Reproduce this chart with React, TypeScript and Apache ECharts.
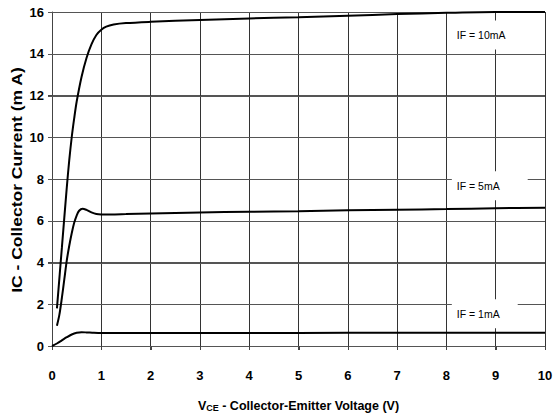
import React, { useEffect, useRef } from "react";
import * as echarts from "echarts";

const xTicks = [0, 1, 2, 3, 4, 5, 6, 7, 8, 9, 10];
const yTicks = [0, 2, 4, 6, 8, 10, 12, 14, 16];

const vce10 = [0.1, 0.2, 0.3, 0.35, 0.4, 0.45, 0.5, 0.6, 0.7, 0.8, 0.9, 1.0, 1.1, 1.25, 1.5, 2, 3, 4, 5, 6, 7, 8, 9, 10];
const ic10 = [1.8, 4.7, 7.6, 8.9, 10.0, 10.9, 11.7, 12.9, 13.8, 14.45, 14.9, 15.15, 15.3, 15.4, 15.47, 15.53, 15.62, 15.69, 15.75, 15.82, 15.9, 15.96, 16, 16];

const vce5 = [0.1, 0.15, 0.2, 0.25, 0.3, 0.35, 0.4, 0.45, 0.5, 0.55, 0.62, 0.7, 0.8, 0.9, 1.0, 1.5, 2, 3, 4, 5, 6, 7, 8, 9, 10];
const ic5 = [0.97, 1.5, 2.3, 3.2, 4.1, 4.8, 5.4, 5.9, 6.25, 6.48, 6.58, 6.52, 6.4, 6.32, 6.3, 6.32, 6.35, 6.4, 6.43, 6.46, 6.5, 6.53, 6.56, 6.6, 6.62];

const vce1 = [0, 0.1, 0.2, 0.3, 0.4, 0.5, 0.6, 0.7, 0.85, 1, 2, 4, 6, 8, 10];
const ic1 = [0, 0.12, 0.27, 0.42, 0.55, 0.63, 0.66, 0.65, 0.63, 0.62, 0.62, 0.62, 0.63, 0.63, 0.63];

const labels = ["IF = 10mA", "IF = 5mA", "IF = 1mA"];
const labelPos = [[8.11, 14.9], [8.11, 7.68], [8.11, 1.54]];

const FONT = "'Liberation Sans', Arial, sans-serif";

function zip(xs: number[], ys: number[]) {
  return xs.map((x, i) => [x, ys[i]]);
}

export default function App() {
  const ref = useRef<HTMLDivElement>(null);
  useEffect(() => {
    if (!ref.current) return;
    const chart = echarts.init(ref.current, undefined, { renderer: "svg" });
    const xMin = xTicks[0];
    const xMax = xTicks[xTicks.length - 1];
    const yMin = yTicks[0];
    const mk = (i: number, padRight: number) => ({
      symbol: "rect",
      symbolSize: 0,
      silent: true,
      data: [{ coord: labelPos[i] }],
      label: {
        show: true,
        position: "inside",
        formatter: labels[i],
        align: "left",
        verticalAlign: "middle",
        color: "#000",
        fontSize: 10.5,
        backgroundColor: "#fff",
        padding: [9, padRight, 9, 5],
      },
    });
    const lineStyle = { color: "#000", width: 2 };
    chart.setOption({
      animation: false,
      backgroundColor: "#fff",
      textStyle: { fontFamily: FONT },
      grid: { left: 52, right: 11, top: 12, bottom: 69, containLabel: false },
      xAxis: {
        type: "value",
        min: xMin,
        max: xMax,
        interval: 1,
        axisLine: { show: true, lineStyle: { color: "#444", width: 1 } },
        axisTick: { show: true, inside: false, length: 4, lineStyle: { color: "#444", width: 1 } },
        splitLine: { show: true, lineStyle: { color: "#333", width: 1 } },
        axisLabel: { color: "#000", fontSize: 13, fontWeight: "bold", margin: 23 },
        name: "{v|V}{s|CE}{n| - Collector-Emitter Voltage (V)}",
        nameLocation: "middle",
        nameGap: 50,
        nameTextStyle: {
          rich: {
            v: { fontSize: 12.5, fontWeight: "bold", color: "#000", lineHeight: 16, verticalAlign: "bottom" },
            s: { fontSize: 9, fontWeight: "bold", color: "#000", lineHeight: 16, verticalAlign: "bottom", padding: [5, 0, 0, 0] },
            n: { fontSize: 12.5, fontWeight: "bold", color: "#000", lineHeight: 16, verticalAlign: "bottom" },
          },
        },
      },
      yAxis: {
        type: "value",
        min: yMin,
        max: yTicks[yTicks.length - 1],
        interval: 2,
        axisLine: { show: true, lineStyle: { color: "#444", width: 1 } },
        axisTick: { show: true, inside: false, length: 4, lineStyle: { color: "#444", width: 1 } },
        splitLine: { show: true, lineStyle: { color: "#555", width: 1 } },
        axisLabel: { color: "#000", fontSize: 13, fontWeight: "bold", margin: 8 },
      },
      graphic: [
        {
          type: "text",
          x: 17,
          y: 180,
          rotation: Math.PI / 2,
          scaleX: 1.25,
          style: {
            text: "IC - Collector Current (m A)",
            font: "bold 14px " + FONT,
            fill: "#000",
            align: "center",
            verticalAlign: "middle",
          },
        },
      ],
      series: [
        {
          type: "custom",
          silent: true,
          z: 1,
          clip: false,
          data: yTicks.map((v) => [xMin, v]),
          renderItem: (_params: any, api: any) => {
            const v = api.value(1);
            const p1 = api.coord([xMin, v]);
            const p2 = api.coord([xMax, v]);
            const y = Math.round(p1[1]) + 0.5;
            return {
              type: "group",
              children: [
                { type: "line", shape: { x1: p1[0] - 4, y1: y, x2: p2[0], y2: y }, style: { stroke: "#555", lineWidth: 1 } },
              ],
            };
          },
        },
        {
          type: "custom",
          silent: true,
          z: 1,
          clip: false,
          data: xTicks.map((v) => [v, yMin]),
          renderItem: (_params: any, api: any) => {
            const p = api.coord([api.value(0), yMin]);
            const x = Math.round(p[0]) + 0.5;
            return { type: "line", shape: { x1: x, y1: p[1], x2: x, y2: p[1] + 4 }, style: { stroke: "#444", lineWidth: 1 } };
          },
        },
        { type: "line", data: zip(vce10, ic10), showSymbol: false, smooth: 0.3, lineStyle, markPoint: mk(0, 5) },
        { type: "line", data: zip(vce5, ic5), showSymbol: false, smooth: 0.3, lineStyle, markPoint: mk(1, 28) },
        { type: "line", data: zip(vce1, ic1), showSymbol: false, smooth: 0.3, lineStyle, markPoint: mk(2, 18) },
      ],
    });
    return () => chart.dispose();
  }, []);
  return (
    <div style={{ position: "fixed", left: 0, top: 0, width: 556, height: 417 }}>
      <div ref={ref} style={{ width: 556, height: 417 }} />
    </div>
  );
}
